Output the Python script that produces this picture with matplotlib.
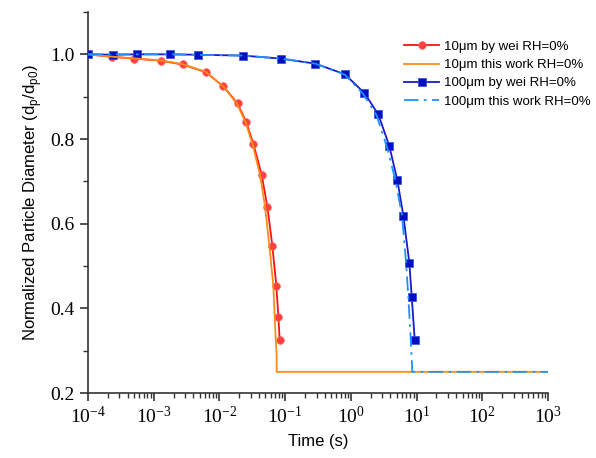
import matplotlib
matplotlib.use("Agg")
import matplotlib.pyplot as plt
from matplotlib.ticker import LogLocator, LogFormatterMathtext, MultipleLocator, NullFormatter

# --- data ---
t_wei10 = [1e-4, 2.34e-4, 4.95e-4, 1.28e-3, 2.76e-3, 6.18e-3, 0.01145, 0.01884, 0.02537,
           0.0328, 0.0440, 0.0536, 0.0638, 0.0734, 0.0788, 0.0826]
d_wei10 = [1.0, 0.994, 0.99, 0.985, 0.976, 0.958, 0.9245, 0.884, 0.841,
           0.789, 0.7145, 0.640, 0.548, 0.4525, 0.380, 0.325]

t_this10 = [1e-4, 2.3e-4, 5e-4, 1.28e-3, 2.8e-3, 6.2e-3, 0.0114, 0.01853, 0.0249,
            0.0319, 0.0415, 0.0494, 0.0574, 0.0661, 0.0719, 0.0743, 0.0743, 1e3]
d_this10 = [1.0, 0.9945, 0.9905, 0.9855, 0.9765, 0.9585, 0.9245, 0.883, 0.840,
            0.788, 0.7145, 0.640, 0.548, 0.4525, 0.325, 0.29, 0.25, 0.25]

t_wei100 = [1e-4, 2.38e-4, 5.5e-4, 1.77e-3, 4.77e-3, 0.0231, 0.0857, 0.288, 0.807,
            1.60, 2.62, 3.85, 5.09, 6.29, 7.76, 8.44, 9.37]
d_wei100 = [1.0, 0.999, 1.0, 1.0, 0.999, 0.997, 0.990, 0.978, 0.953,
            0.909, 0.858, 0.783, 0.703, 0.619, 0.507, 0.426, 0.325]

t_this100 = [1e-4, 1.77e-3, 0.0231, 0.0857, 0.288, 0.807, 1.53, 2.46, 3.55,
             4.75, 6.01, 6.92, 7.49, 8.15, 8.61, 1e3]
d_this100 = [1.0, 1.0, 0.997, 0.990, 0.978, 0.952, 0.907, 0.856, 0.7805,
             0.703, 0.619, 0.507, 0.426, 0.325, 0.25, 0.25]

labels = ["10\u03bcm by wei RH=0%", "10\u03bcm this work RH=0%",
          "100\u03bcm by wei RH=0%", "100\u03bcm this work RH=0%"]

fig = plt.figure(figsize=(5.96, 4.58), dpi=100)
ax = fig.add_axes([0.1477, 0.1419, 0.9195 - 0.1477, 0.9738 - 0.1419])

ax.plot(t_wei10, d_wei10, color="#ff1010", lw=1.3, marker="o", ms=5.5,
        mfc="#ff4040", mec="#ff6060", mew=0.5, label=labels[0], zorder=3)
ax.plot(t_this10, d_this10, color="#ff8c1a", lw=1.3, label=labels[1], zorder=4)
ax.plot(t_wei100, d_wei100, color="#1a1acc", lw=1.3, marker="s", ms=5.5,
        mfc="#0010c0", mec="#3050e0", mew=0.5, label=labels[2], zorder=3)
ax.plot(t_this100, d_this100, color="#1e90ff", lw=1.3, ls=(0, (8, 3, 1.5, 3)),
        label=labels[3], zorder=4)

ax.set_xscale("log")
ax.set_xlim(1e-4, 1e3)
ax.set_ylim(0.2, 1.1)

for s in ["top", "right"]:
    ax.spines[s].set_visible(False)
for s in ["left", "bottom"]:
    ax.spines[s].set_linewidth(1.2)
    ax.spines[s].set_color("#333333")

ax.xaxis.set_major_locator(LogLocator(base=10, numticks=20))
ax.xaxis.set_major_formatter(LogFormatterMathtext())
ax.xaxis.set_minor_locator(LogLocator(base=10, subs=range(2, 10), numticks=20))
ax.xaxis.set_minor_formatter(NullFormatter())
ax.yaxis.set_major_locator(MultipleLocator(0.2))
ax.yaxis.set_minor_locator(MultipleLocator(0.1))
ax.yaxis.set_major_formatter(matplotlib.ticker.FormatStrFormatter("%.1f"))

ax.tick_params(which="major", direction="out", length=6, width=1.2, colors="#333333",
               labelsize=14, labelcolor="black")
ax.tick_params(which="minor", direction="out", length=3.5, width=1.0, colors="#333333")
for lab in ax.get_xticklabels() + ax.get_yticklabels():
    lab.set_fontfamily("Liberation Serif")

ax.set_xlabel("Time (s)", fontsize=12, fontfamily="Liberation Sans", labelpad=5)
ax.set_ylabel(r"Normalized Particle Diameter (d$_\mathregular{p}$/d$_\mathregular{p0}$)",
              fontsize=12, fontfamily="Liberation Sans", labelpad=5)

leg = ax.legend(loc="upper right", bbox_to_anchor=(1.11, 0.945), frameon=False,
                prop={"family": "Liberation Sans", "size": 9.5},
                handlelength=2.6, handletextpad=0.4, labelspacing=0.45, borderaxespad=0.2)

fig.savefig("out.png", dpi=100)
